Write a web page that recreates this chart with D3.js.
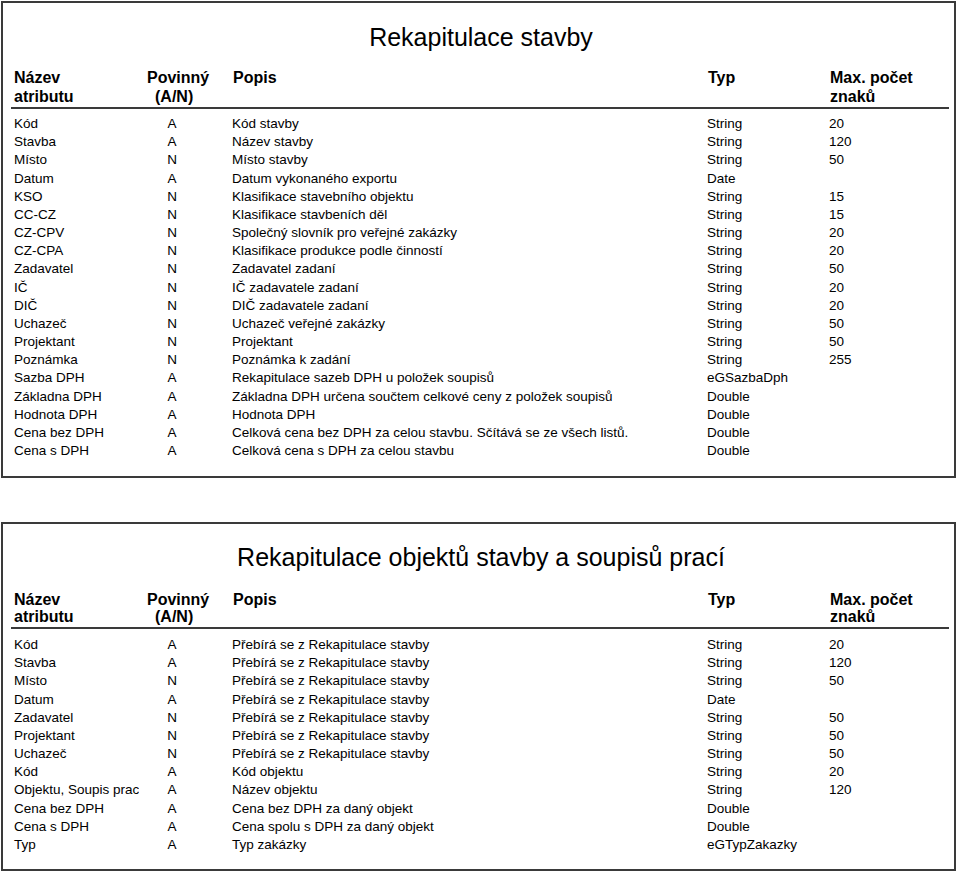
<!DOCTYPE html>
<html><head><meta charset="utf-8">
<script src="https://cdn.jsdelivr.net/npm/d3@7"></script>
<style>
html,body{margin:0;padding:0;background:#fff;}
svg{display:block;}
text{font-family:"Liberation Sans",Arial,sans-serif;fill:#000;}
</style></head>
<body>
<div id="chart"></div>
<script>
// ---- Data ----
const title1 = "Rekapitulace stavby";
const title2 = "Rekapitulace objektů stavby a soupisů prací";
const headerLine1 = ["Název", "Povinný", "Popis", "Typ", "Max. počet"];
const headerLine2 = ["atributu", "(A/N)", "", "", "znaků"];

const names1 = ["Kód","Stavba","Místo","Datum","KSO","CC-CZ","CZ-CPV","CZ-CPA","Zadavatel","IČ","DIČ","Uchazeč","Projektant","Poznámka","Sazba DPH","Základna DPH","Hodnota DPH","Cena bez DPH","Cena s DPH"];
const req1 = ["A","A","N","A","N","N","N","N","N","N","N","N","N","N","A","A","A","A","A"];
const desc1 = ["Kód stavby","Název stavby","Místo stavby","Datum vykonaného exportu","Klasifikace stavebního objektu","Klasifikace stavbeních děl","Společný slovník pro veřejné zakázky","Klasifikace produkce podle činností","Zadavatel zadaní","IČ zadavatele zadaní","DIČ zadavatele zadaní","Uchazeč veřejné zakázky","Projektant","Poznámka k zadání","Rekapitulace sazeb DPH u položek soupisů","Základna DPH určena součtem celkové ceny z položek soupisů","Hodnota DPH","Celková cena bez DPH za celou stavbu. Sčítává se ze všech listů.","Celková cena s DPH za celou stavbu"];
const type1 = ["String","String","String","Date","String","String","String","String","String","String","String","String","String","String","eGSazbaDph","Double","Double","Double","Double"];
const max1 = ["20","120","50","","15","15","20","20","50","20","20","50","50","255","","","","",""];

const names2 = ["Kód","Stavba","Místo","Datum","Zadavatel","Projektant","Uchazeč","Kód","Objektu, Soupis prací","Cena bez DPH","Cena s DPH","Typ"];
const req2 = ["A","A","N","A","N","N","N","A","A","A","A","A"];
const desc2 = ["Přebírá se z Rekapitulace stavby","Přebírá se z Rekapitulace stavby","Přebírá se z Rekapitulace stavby","Přebírá se z Rekapitulace stavby","Přebírá se z Rekapitulace stavby","Přebírá se z Rekapitulace stavby","Přebírá se z Rekapitulace stavby","Kód objektu","Název objektu","Cena bez DPH za daný objekt","Cena spolu s DPH za daný objekt","Typ zakázky"];
const type2 = ["String","String","String","Date","String","String","String","String","String","Double","Double","eGTypZakazky"];
const max2 = ["20","120","50","","50","50","50","20","120","","",""];

// ---- Layout ----
const W = 960, H = 876;
const svg = d3.select("#chart").append("svg").attr("width", W).attr("height", H);

const colX = d3.scaleOrdinal().domain(["name","req","desc","type","max"]).range([14, 172, 232, 707, 829]);
const headX = [14, 147, 233, 708, 830];
const headX2 = [14, 155, 233, 708, 830];

svg.append("defs").append("clipPath").attr("id","nameclip")
  .append("rect").attr("x", 0).attr("y", -30).attr("width", 139).attr("height", 60);

function drawTable(cfg) {
  const g = svg.append("g");
  g.append("rect")
    .attr("x", 2).attr("y", cfg.top).attr("width", 953).attr("height", cfg.bottom - cfg.top)
    .attr("fill", "none").attr("stroke", "#3a3a3a").attr("stroke-width", 2);
  g.append("text").attr("x", 481).attr("y", cfg.titleY)
    .attr("text-anchor", "middle").style("font-size", "25px").text(cfg.title);
  headerLine1.forEach((h, i) => {
    g.append("text").attr("x", headX[i]).attr("y", cfg.h1Y)
      .style("font-size", "16px").style("font-weight", "bold").text(h);
  });
  headerLine2.forEach((h, i) => {
    if (!h) return;
    g.append("text").attr("x", headX2[i]).attr("y", cfg.h2Y)
      .style("font-size", "16px").style("font-weight", "bold").text(h);
  });
  g.append("line").attr("x1", 11).attr("x2", 949).attr("y1", cfg.lineY).attr("y2", cfg.lineY)
    .attr("stroke", "#3a3a3a").attr("stroke-width", 2);

  const y = d3.scalePoint().domain(d3.range(cfg.names.length)).range([cfg.firstY, cfg.lastY]);
  const rows = g.selectAll("g.row").data(d3.range(cfg.names.length)).join("g").attr("class","row")
    .attr("transform", i => `translate(0,${y(i)})`);
  rows.append("g").attr("clip-path", "url(#nameclip)")
    .append("text").attr("x", colX("name"))
    .style("font-size", "13.5px").text(i => cfg.names[i]);
  rows.append("text").attr("x", colX("req")).attr("text-anchor", "middle")
    .style("font-size", "13.5px").text(i => cfg.req[i]);
  rows.append("text").attr("x", colX("desc")).style("font-size", "13.5px").text(i => cfg.desc[i]);
  rows.append("text").attr("x", colX("type")).style("font-size", "13.5px").text(i => cfg.type[i]);
  rows.append("text").attr("x", colX("max")).style("font-size", "13.5px").text(i => cfg.max[i]);
}

drawTable({top: 2, bottom: 477, title: title1, titleY: 46, h1Y: 83, h2Y: 102, lineY: 108,
  firstY: 128, lastY: 455, names: names1, req: req1, desc: desc1, type: type1, max: max1});
drawTable({top: 523, bottom: 870, title: title2, titleY: 566, h1Y: 605, h2Y: 622, lineY: 628,
  firstY: 649, lastY: 849, names: names2, req: req2, desc: desc2, type: type2, max: max2});
</script>
</body></html>
